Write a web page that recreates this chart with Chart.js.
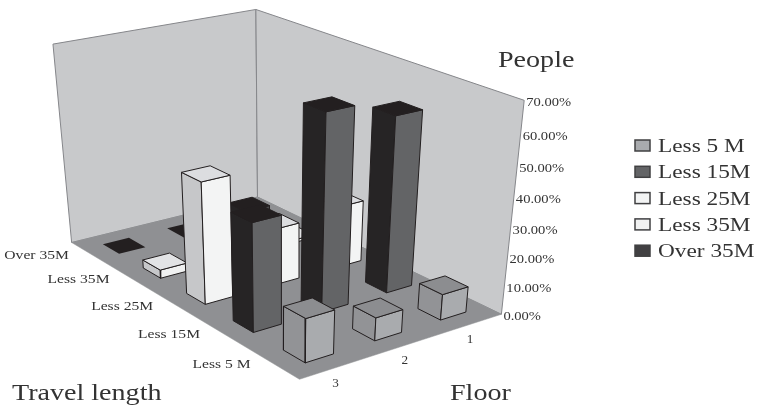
<!DOCTYPE html>
<html>
<head>
<meta charset="utf-8">
<style>html,body{margin:0;padding:0;background:#fff}canvas{display:block}</style>
<script src="https://cdn.jsdelivr.net/npm/chart.js@4/dist/chart.umd.min.js"></script>
</head>
<body>
<canvas id="c" width="757" height="405"></canvas>
<script>
// Share of people (%) per travel length, ordered by floor 1, 2, 3
const floors = ['1', '2', '3'];
const seriesNames = ['Less 5 M', 'Less 15M', 'Less 25M', 'Less 35M', 'Over 35M'];
const less5 = [9, 8, 15];
const less15 = [60, 66, 37];
const less25 = [22, 20, 42];
const less35 = [1, 5, 3];
const over35 = [4, 0, 0];
const valueTicks = ['0.00%', '10.00%', '20.00%', '30.00%', '40.00%', '50.00%', '60.00%', '70.00%'];
const maxValue = 70;

// Face colours per series: [side, front, top, outline]
const seriesColors = [
  ['#929396', '#a9abae', '#8c8d90', '#231f20'],
  ['#262425', '#636466', '#231f20', '#231f20'],
  ['#c6c7c9', '#f3f4f4', '#dcdde0', '#231f20'],
  ['#c6c7c9', '#f0f1f1', '#e2e3e5', '#231f20'],
  ['#262425', '#4a4a4c', '#231f20', '#231f20']
];
const swatchColors = ['#a9abae', '#636466', '#f3f4f4', '#f0f1f1', '#414042'];
const seriesValues = [less5, less15, less25, less35, over35];

// Box corners as seen on screen, used to calibrate the camera:
// [across travel length, across floor, height, screenX, screenY]
const boxCorners = [
  [0, 0, 0, 72, 242], [1, 0, 0, 299, 380], [0, 1, 0, 257, 198], [1, 1, 0, 502, 313],
  [0, 0, 1, 53, 44], [0, 1, 1, 256, 9], [1, 1, 1, 524, 101]
];

// Least-squares fit of a 3x4 projective camera through the corners
function fitCamera(pts) {
  const A = [], b = [];
  for (const [u, v, h, x, y] of pts) {
    A.push([u, v, h, 1, 0, 0, 0, 0, -x * u, -x * v, -x * h]); b.push(x);
    A.push([0, 0, 0, 0, u, v, h, 1, -y * u, -y * v, -y * h]); b.push(y);
  }
  const n = 11;
  const M = Array.from({length: n}, (_, i) => {
    const row = new Array(n + 1).fill(0);
    A.forEach((r, k) => {
      for (let j = 0; j < n; j++) row[j] += r[i] * r[j];
      row[n] += r[i] * b[k];
    });
    return row;
  });
  for (let i = 0; i < n; i++) {
    let p = i;
    for (let k = i + 1; k < n; k++) if (Math.abs(M[k][i]) > Math.abs(M[p][i])) p = k;
    [M[i], M[p]] = [M[p], M[i]];
    for (let k = 0; k < n; k++) {
      if (k === i) continue;
      const f = M[k][i] / M[i][i];
      for (let j = i; j <= n; j++) M[k][j] -= f * M[i][j];
    }
  }
  return M.map((r, i) => r[n] / r[i]);
}
const cam = fitCamera(boxCorners);
function project(u, v, h) {
  const w = cam[8] * u + cam[9] * v + cam[10] * h + 1;
  return {
    x: (cam[0] * u + cam[1] * v + cam[2] * h + cam[3]) / w,
    y: (cam[4] * u + cam[5] * v + cam[6] * h + cam[7]) / w
  };
}

// Grid position helpers: s runs 0..5 along travel length, t runs 0..3 along floor
const gridPoint = (s, t, h) => project(s / 5, t / 3, h);

const shapes = [];
function addFace(points, fill, stroke, width) {
  shapes.push({
    type: 'scatter',
    showLine: true,
    data: [...points, points[0]],
    fill: 'shape',
    backgroundColor: fill,
    borderColor: stroke,
    borderWidth: width,
    borderJoinStyle: 'round',
    pointRadius: 0,
    tension: 0
  });
}

// Walls and floor first, then the bars from the far corner towards the viewer
addFace([project(0,0,0), project(0,1,0), project(0,1,1), project(0,0,1)], '#c8c9cb', '#85868a', 1);
addFace([project(0,1,0), project(1,1,0), project(1,1,1), project(0,1,1)], '#c8c9cb', '#85868a', 1);
addFace([project(0,0,0), project(1,0,0), project(1,1,0), project(0,1,0)], '#8f9093', '#8f9093', 0.5);

const halfS = 0.205, halfT = 0.2;
const travelOrder = [4, 3, 2, 1, 0];
travelOrder.forEach((series, row) => {
  for (let f = 0; f < floors.length; f++) {
    const value = seriesValues[series][f];
    const h = value / maxValue;
    const col = 2 - f;
    const s0 = row + 0.5 - halfS, s1 = row + 0.5 + halfS;
    const t0 = col + 0.5 - halfT, t1 = col + 0.5 + halfT;
    const [side, front, top, line] = seriesColors[series];
    if (value > 0) {
      addFace([gridPoint(s0,t0,0), gridPoint(s1,t0,0), gridPoint(s1,t0,h), gridPoint(s0,t0,h)], side, line, 1);
      addFace([gridPoint(s1,t0,0), gridPoint(s1,t1,0), gridPoint(s1,t1,h), gridPoint(s1,t0,h)], front, line, 1);
    }
    addFace([gridPoint(s0,t0,h), gridPoint(s1,t0,h), gridPoint(s1,t1,h), gridPoint(s0,t1,h)], top, line, value > 0 ? 1 : 0);
  }
});

// Stretched serif lettering for every label on the chart
function wideText(ctx, text, x, y, size, stretch, align) {
  ctx.save();
  ctx.font = size + 'px "Liberation Serif"';
  ctx.fillStyle = '#333';
  ctx.textBaseline = 'alphabetic';
  ctx.textAlign = 'left';
  const w = ctx.measureText(text).width * stretch;
  const left = align === 'right' ? x - w : align === 'center' ? x - w / 2 : x;
  ctx.translate(left, y);
  ctx.scale(stretch, 1);
  ctx.fillText(text, 0, 0);
  ctx.restore();
}

const labelPlugin = {
  id: 'chartLabels',
  afterDatasetsDraw(chart) {
    const ctx = chart.ctx;
    // Value axis along the right-hand wall edge
    valueTicks.forEach((t, i) => {
      const p = project(1, 1, i * 10 / maxValue);
      wideText(ctx, t, p.x + 2, p.y + 6, 13, 1.12, 'left');
    });
    // Travel length categories along the left floor edge
    travelOrder.forEach((series, row) => {
      const p = gridPoint(row + 0.5, 0, 0);
      wideText(ctx, seriesNames[series], p.x - 22, p.y + 5, 13, 1.2, 'right');
    });
    // Floor categories along the right floor edge
    floors.forEach((name, f) => {
      const p = gridPoint(5, 2 - f + 0.5, 0);
      wideText(ctx, name, p.x, p.y + 19, 12, 1.1, 'center');
    });
    // Axis titles
    wideText(ctx, 'Travel length', 12, 400, 24, 1.17, 'left');
    wideText(ctx, 'Floor', 450, 400, 24, 1.17, 'left');
    wideText(ctx, 'People', 498, 67, 24, 1.17, 'left');
    // Legend
    seriesNames.forEach((name, i) => {
      const y = 140 + i * 26.3;
      ctx.fillStyle = swatchColors[i];
      ctx.strokeStyle = '#404042';
      ctx.lineWidth = 1.5;
      ctx.fillRect(635, y, 15, 11);
      ctx.strokeRect(635, y, 15, 11);
      wideText(ctx, name, 658, y + 12, 18.5, 1.26, 'left');
    });
  }
};

new Chart(document.getElementById('c'), {
  type: 'scatter',
  data: { datasets: shapes.map((d, i) => ({ ...d, order: shapes.length - i })) },
  options: {
    responsive: false,
    animation: false,
    events: [],
    layout: { padding: 0 },
    scales: {
      x: { type: 'linear', display: false, min: 0, max: 757 },
      y: { type: 'linear', display: false, min: 0, max: 405, reverse: true }
    },
    plugins: { legend: { display: false }, tooltip: { enabled: false } }
  },
  plugins: [labelPlugin]
});
</script>
</body>
</html>
